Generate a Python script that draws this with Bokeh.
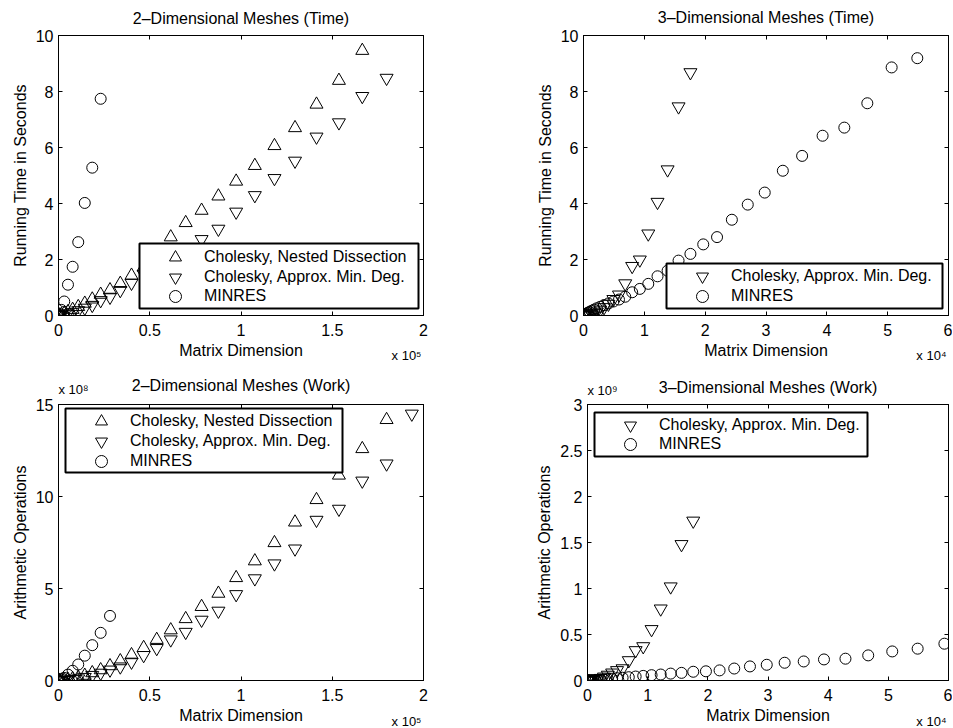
from bokeh.plotting import figure
from bokeh.models import Range1d, FixedTicker, LinearAxis, Legend, LegendItem, Label, BoxAnnotation
from bokeh.layouts import column, row
from bokeh.embed import file_html
from bokeh.resources import INLINE

FONT = "Liberation Sans"

# ---------------- data ----------------
# matrix dimensions of the 2-D meshes
dim2 = [64, 576, 1600, 3136, 5184, 7744, 10816, 14400, 18496, 23104, 28224,
        33856, 40000, 46656, 53824, 61504, 69696, 78400, 87616, 97344, 107584,
        118336, 129600, 141376, 153664, 166464, 179776, 193600]
# matrix dimensions of the 3-D meshes
dim3 = [27, 64, 125, 216, 343, 512, 729, 1000, 1331, 1728, 2197, 2744, 3375,
        4096, 4913, 5832, 6859, 8000, 9261, 10648, 12167, 13824, 15625, 17576,
        19683, 21952, 24389, 27000, 29791, 32768, 35937, 39304, 42875, 46656,
        50653, 54872, 59319]

# running time in seconds
time2_nested = [0.0, 0.01, 0.03, 0.07, 0.13, 0.21, 0.31, 0.43, 0.58, 0.75, 0.91,
                1.14, 1.43, 1.72, 2.25, 2.80, 3.31, 3.75, 4.26, 4.79, 5.35, 6.06,
                6.70, 7.54, 8.39, 9.46]
time2_amd = [0.0, 0.005, 0.015, 0.04, 0.07, 0.12, 0.18, 0.27, 0.37, 0.54, 0.66,
             0.90, 1.16, 1.48, 1.82, 2.15, 2.42, 2.72, 3.09, 3.70, 4.29, 4.90,
             5.52, 6.38, 6.89, 7.83, 8.48]
time2_minres = [0.0, 0.05, 0.2, 0.5, 1.10, 1.74, 2.62, 4.02, 5.28, 7.74]
time3_amd = [0.0, 0.0, 0.001, 0.003, 0.006, 0.012, 0.02, 0.035, 0.055, 0.085,
             0.13, 0.2, 0.29, 0.41, 0.58, 0.74, 1.14, 1.76, 1.99, 2.92, 4.05,
             5.21, 7.46, 8.68]
time3_minres = [0.005, 0.01, 0.02, 0.03, 0.05, 0.07, 0.1, 0.13, 0.17, 0.21, 0.26,
                0.31, 0.37, 0.43, 0.50, 0.57, 0.67, 0.83, 0.95, 1.13, 1.40, 1.60,
                1.96, 2.20, 2.54, 2.80, 3.42, 3.96, 4.39, 5.17, 5.70, 6.42, 6.71,
                7.58, 8.86, 9.19]

# arithmetic operations (2-D in units of 1e8, 3-D in units of 1e9)
work2_nested_e8 = [0.0, 0.001, 0.006, 0.02, 0.05, 0.09, 0.16, 0.27, 0.41, 0.57,
                   0.79, 1.06, 1.39, 1.78, 2.22, 2.74, 3.35, 4.01, 4.73, 5.58,
                   6.49, 7.48, 8.60, 9.82, 11.15, 12.59, 14.17]
work2_amd_e8 = [0.0, 0.001, 0.004, 0.012, 0.03, 0.06, 0.10, 0.18, 0.29, 0.41,
                0.58, 0.75, 1.01, 1.37, 1.75, 2.22, 2.63, 3.29, 3.78, 4.68, 5.54,
                6.35, 7.16, 8.72, 9.32, 10.85, 11.78, 14.49]
work2_minres_e8 = [0.0, 0.01, 0.05, 0.14, 0.32, 0.53, 0.87, 1.35, 1.92, 2.59, 3.51]
work3_amd_e9 = [0.0, 0.0, 0.0001, 0.0003, 0.0007, 0.0015, 0.003, 0.005, 0.009,
                0.015, 0.025, 0.04, 0.06, 0.084, 0.11, 0.13, 0.218, 0.327, 0.37,
                0.556, 0.78, 1.02, 1.48, 1.735]
work3_minres_e9 = [0.0, 0.0001, 0.0003, 0.0006, 0.001, 0.0016, 0.0025, 0.0035,
                   0.005, 0.007, 0.009, 0.012, 0.016, 0.02, 0.025, 0.03, 0.036,
                   0.043, 0.05, 0.058, 0.065, 0.075, 0.083, 0.095, 0.10, 0.11,
                   0.13, 0.153, 0.171, 0.193, 0.207, 0.229, 0.237, 0.273, 0.316,
                   0.346, 0.40]

# axis ticks and labels
x2_ticks = [0, 50000, 100000, 150000, 200000]
x2_tick_labels = ["0", "0.5", "1", "1.5", "2"]
x3_ticks = [0, 10000, 20000, 30000, 40000, 50000, 60000]
x3_tick_labels = ["0", "1", "2", "3", "4", "5", "6"]
time_ticks = [0, 2, 4, 6, 8, 10]
time_tick_labels = ["0", "2", "4", "6", "8", "10"]
work2_ticks = [0, 5, 10, 15]
work2_tick_labels = ["0", "5", "10", "15"]
work3_ticks = [0, 0.5, 1, 1.5, 2, 2.5, 3]
work3_tick_labels = ["0", "0.5", "1", "1.5", "2", "2.5", "3"]

label_nested = "Cholesky, Nested Dissection"
label_amd = "Cholesky, Approx. Min. Deg."
label_minres = "MINRES"


# ---------------- helpers ----------------
def make_panel(title, title_offset, xr, yr, xt, xtl, yt, ytl, ylab, w, h, bl, br, bt, bb):
    p = figure(width=w, height=h, x_range=Range1d(*xr), y_range=Range1d(*yr),
               output_backend="svg", toolbar_location=None,
               min_border_left=bl, min_border_right=br,
               min_border_top=bt, min_border_bottom=bb)
    p.grid.visible = False
    p.background_fill_color = "white"
    p.border_fill_color = "white"
    p.outline_line_color = "black"
    p.outline_line_width = 1
    p.outline_line_alpha = 1
    xa = p.xaxis[0]
    ya = p.yaxis[0]
    for ax, ticks, labels in ((xa, xt, xtl), (ya, yt, ytl)):
        ax.ticker = FixedTicker(ticks=ticks, minor_ticks=[])
        ax.major_label_overrides = {t: l for t, l in zip(ticks, labels)}
        ax.major_tick_in = 4
        ax.major_tick_out = 0
        ax.minor_tick_line_color = None
        ax.major_tick_line_color = "black"
        ax.axis_line_color = "black"
        ax.major_label_text_font = FONT
        ax.major_label_text_font_size = "16px"
        ax.major_label_text_color = "black"
        ax.major_label_standoff = 5
        ax.axis_label_text_font = FONT
        ax.axis_label_text_font_size = "16px"
        ax.axis_label_text_font_style = "normal"
        ax.axis_label_text_color = "black"
        ax.axis_label_standoff = 4
    xa.axis_label = "Matrix Dimension"
    xa.major_label_standoff = 8
    xa.axis_label_standoff = 3
    ya.axis_label = ylab
    for loc, ticks in (("above", xt), ("right", yt)):
        m = LinearAxis(ticker=FixedTicker(ticks=ticks, minor_ticks=[]),
                       major_tick_in=4, major_tick_out=0,
                       minor_tick_line_color=None, major_tick_line_color="black",
                       axis_line_color="black",
                       major_label_text_font_size="0px", major_label_standoff=0)
        m.major_label_overrides = {t: "" for t in ticks}
        p.add_layout(m, loc)
    # title drawn as a label in the top panel, centred over the axes box
    p.add_layout(Label(x=(xr[0] + xr[1]) / 2, y=yr[1], y_offset=title_offset,
                       text=title, text_font=FONT, text_font_size="16px",
                       text_color="black", text_align="center",
                       text_baseline="middle"), "above")
    return p


def add_series(p, x, y, marker, size):
    n = len(y)
    return p.scatter(x=x[:n], y=y, marker=marker, size=size, fill_color=None,
                     line_color="black", line_width=1)


def add_legend(p, items, box, marker_x, row_centers):
    left, right, bottom, top = box
    p.add_layout(BoxAnnotation(left=left, right=right, bottom=bottom, top=top,
                               left_units="screen", right_units="screen",
                               bottom_units="screen", top_units="screen",
                               fill_color="white", fill_alpha=1,
                               line_color="black", line_width=2, line_alpha=1))
    for (lab, r), c in zip(items, row_centers):
        leg = Legend(items=[LegendItem(label=lab, renderers=[r])],
                     location=(marker_x - 29, c - 15), orientation="vertical",
                     padding=0, margin=0, spacing=0, glyph_width=58,
                     glyph_height=30, label_height=19, label_standoff=0,
                     label_text_font=FONT, label_text_font_size="16px",
                     label_text_color="black", border_line_alpha=0,
                     background_fill_alpha=0)
        p.add_layout(leg)


def add_power(p, side, x, y, xo, yo, text, align):
    # axis multiplier such as "x 10^5", placed in a side panel so it is not clipped
    p.add_layout(Label(x=x, y=y, x_offset=xo, y_offset=yo, text=text,
                       text_font=FONT, text_font_size="13px", text_color="black",
                       text_align=align, text_baseline="middle"), side)


# ---------------- panels ----------------
tl = make_panel("2\u2013Dimensional Meshes (Time)", 17, (0, 200000), (0, 10),
                x2_ticks, x2_tick_labels, time_ticks, time_tick_labels,
                "Running Time in Seconds", 468, 363, 58, 45, 35, 48)
r_nd = add_series(tl, dim2, time2_nested, "triangle", 13)
r_amd = add_series(tl, dim2, time2_amd, "inverted_triangle", 13)
r_min = add_series(tl, dim2, time2_minres, "circle", 11)
add_legend(tl, [(label_nested, r_nd), (label_amd, r_amd), (label_minres, r_min)],
           (81, 360, 7, 72), 117, (58, 38, 19))
add_power(tl, "right", 200000, 0, -2, -40, "x 10\u2075", "right")

tr = make_panel("3\u2013Dimensional Meshes (Time)", 18, (0, 60000), (0, 10),
                x3_ticks, x3_tick_labels, time_ticks, time_tick_labels,
                "Running Time in Seconds", 484, 363, 115, 4, 35, 48)
r_amd3 = add_series(tr, dim3, time3_amd, "inverted_triangle", 13)
r_min3 = add_series(tr, dim3, time3_minres, "circle", 11)
add_legend(tr, [(label_amd, r_amd3), (label_minres, r_min3)],
           (83, 359, 7, 52), 119, (39, 19))
add_power(tr, "left", 60000, 0, -2, -40, "x 10\u2074", "right")

bl = make_panel("2\u2013Dimensional Meshes (Work)", 19, (0, 200000), (0, 15),
                x2_ticks, x2_tick_labels, work2_ticks, work2_tick_labels,
                "Arithmetic Operations", 468, 365, 58, 45, 41, 48)
r_ndw = add_series(bl, dim2, work2_nested_e8, "triangle", 13)
r_amdw = add_series(bl, dim2, work2_amd_e8, "inverted_triangle", 13)
r_minw = add_series(bl, dim2, work2_minres_e8, "circle", 11)
add_legend(bl, [(label_nested, r_ndw), (label_amd, r_amdw), (label_minres, r_minw)],
           (7, 284, 208, 272), 43, (259, 239, 219))
add_power(bl, "right", 200000, 0, -2, -41, "x 10\u2075", "right")
add_power(bl, "above", 0, 15, 0, 15, "x 10\u2078", "left")

br = make_panel("3\u2013Dimensional Meshes (Work)", 17, (0, 60000), (0, 3),
                x3_ticks, x3_tick_labels, work3_ticks, work3_tick_labels,
                "Arithmetic Operations", 484, 365, 119, 4, 41, 48)
r_amdw3 = add_series(br, dim3, work3_amd_e9, "inverted_triangle", 13)
r_minw3 = add_series(br, dim3, work3_minres_e9, "circle", 11)
add_legend(br, [(label_amd, r_amdw3), (label_minres, r_minw3)],
           (7, 280, 224, 268), 43, (255, 236))
add_power(br, "left", 60000, 0, -2, -41, "x 10\u2074", "right")
add_power(br, "above", 0, 3, 0, 14, "x 10\u2079", "left")

layout = column(row(tl, tr), row(bl, br))

open("out.html", "w").write(file_html(layout, INLINE))
